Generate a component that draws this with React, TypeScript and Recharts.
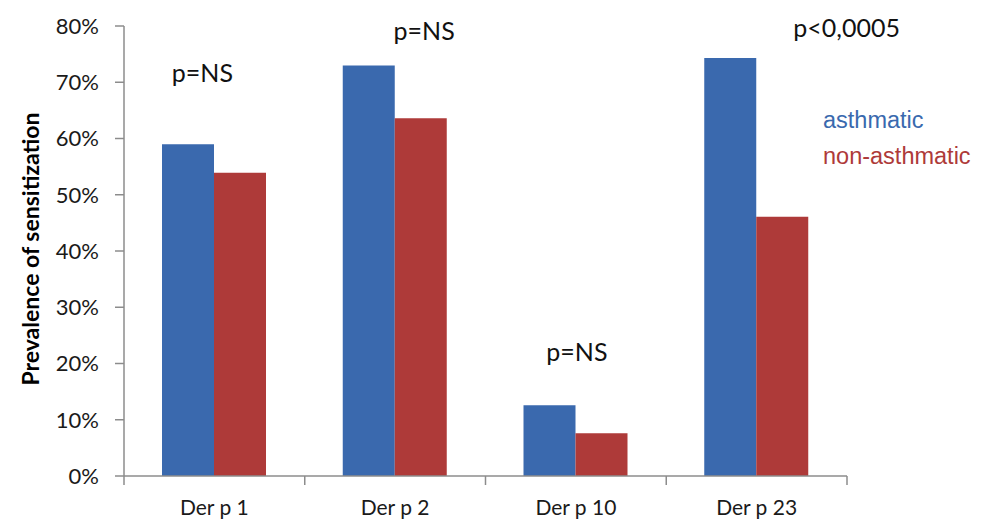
import { Bar, BarChart, Label, Legend, ReferenceDot, XAxis, YAxis } from "recharts";

const ALLERGENS = ["Der p 1", "Der p 2", "Der p 10", "Der p 23"];
const ASTHMATIC = [59, 73, 12.6, 74.3];
const NON_ASTHMATIC = [53.9, 63.6, 7.6, 46.1];
const Y_TICKS = [0, 10, 20, 30, 40, 50, 60, 70, 80];

// p-value notes: category, height (in %), horizontal nudge from category centre
const NOTES = [
  { cat: "Der p 1", y: 71.8, dx: -12, text: "p=NS" },
  { cat: "Der p 2", y: 79.3, dx: 29, text: "p=NS" },
  { cat: "Der p 10", y: 22.2, dx: 1, text: "p=NS" },
  { cat: "Der p 23", y: 79.8, dx: 90, text: "p<0,0005" },
];

const BLUE = "#3a69ae";
const RED = "#ae3a39";
const AXIS = "#8c8c8c";
const FONT = "Lato, 'Open Sans', sans-serif";

const data = ALLERGENS.map((name, i) => ({
  name,
  asthmatic: ASTHMATIC[i],
  nonAsthmatic: NON_ASTHMATIC[i],
}));

function LegendText() {
  return (
    <div style={{ fontFamily: "'Liberation Sans', Arial, sans-serif", fontSize: 23.5, lineHeight: "36px" }}>
      <div style={{ color: BLUE }}>asthmatic</div>
      <div style={{ color: RED }}>non-asthmatic</div>
    </div>
  );
}

// category label plus a tick mark on the band edges (Excel style)
function CategoryTick(props: any) {
  const { x, y, payload, index, visibleTicksCount } = props;
  const half = payload.offset ?? 0;
  return (
    <g>
      <line x1={x - half} x2={x - half} y1={y} y2={y + 9} stroke={AXIS} strokeWidth={1.5} />
      {index === visibleTicksCount - 1 && (
        <line x1={x + half} x2={x + half} y1={y} y2={y + 9} stroke={AXIS} strokeWidth={1.5} />
      )}
      <text x={x} y={y + 39} textAnchor="middle" fontFamily={FONT} fontSize={21} fill="#1a1a1a">
        {payload.value}
      </text>
    </g>
  );
}

export default function App() {
  return (
    <div style={{ position: "absolute", left: 0, top: 0, background: "#fff" }}>
      <BarChart
        width={981}
        height={525}
        data={data}
        margin={{ top: 26, right: 134, bottom: 19, left: 0 }}
        barGap={0}
        barSize={52}
      >
        <XAxis
          dataKey="name"
          axisLine={{ stroke: AXIS, strokeWidth: 1.5 }}
          tickLine={false}
          tickSize={0}
          tickMargin={0}
          tick={<CategoryTick />}
          height={30}
        />
        <YAxis
          domain={[0, 80]}
          ticks={Y_TICKS}
          tickFormatter={(v) => `${v}%`}
          width={124}
          axisLine={{ stroke: AXIS, strokeWidth: 1.5 }}
          tickLine={{ stroke: AXIS, strokeWidth: 1.5 }}
          tickSize={9}
          tickMargin={16}
          tick={{ fontSize: 22, fill: "#1a1a1a", fontFamily: FONT }}
        >
          <Label
            content={({ viewBox }: any) => {
              const cy = viewBox.y + viewBox.height / 2 - 2;
              return (
                <text
                  x={39}
                  y={cy}
                  transform={`rotate(-90 39 ${cy})`}
                  textAnchor="middle"
                  fontFamily={FONT}
                  fontWeight={700}
                  fontSize={23}
                  fill="#000"
                >
                  Prevalence of sensitization
                </text>
              );
            }}
          />
        </YAxis>
        <Legend
          content={<LegendText />}
          align="center"
          verticalAlign="middle"
          wrapperStyle={{ position: "absolute", left: 823, top: 102, width: 160 }}
        />
        <Bar dataKey="asthmatic" name="asthmatic" fill={BLUE} isAnimationActive={false} />
        <Bar dataKey="nonAsthmatic" name="non-asthmatic" fill={RED} isAnimationActive={false} />
        {NOTES.map((n) => (
          <ReferenceDot
            key={n.cat}
            x={n.cat}
            y={n.y}
            r={1}
            fill="none"
            stroke="none"
            label={{
              content: ({ viewBox }: any) => (
                <text
                  x={viewBox.x + viewBox.width / 2 + n.dx}
                  y={viewBox.y + viewBox.height / 2}
                  dominantBaseline="central"
                  textAnchor="middle"
                  fontFamily={FONT}
                  fontSize={25}
                  fill="#111"
                >
                  {n.text}
                </text>
              ),
            }}
          />
        ))}
      </BarChart>
    </div>
  );
}
